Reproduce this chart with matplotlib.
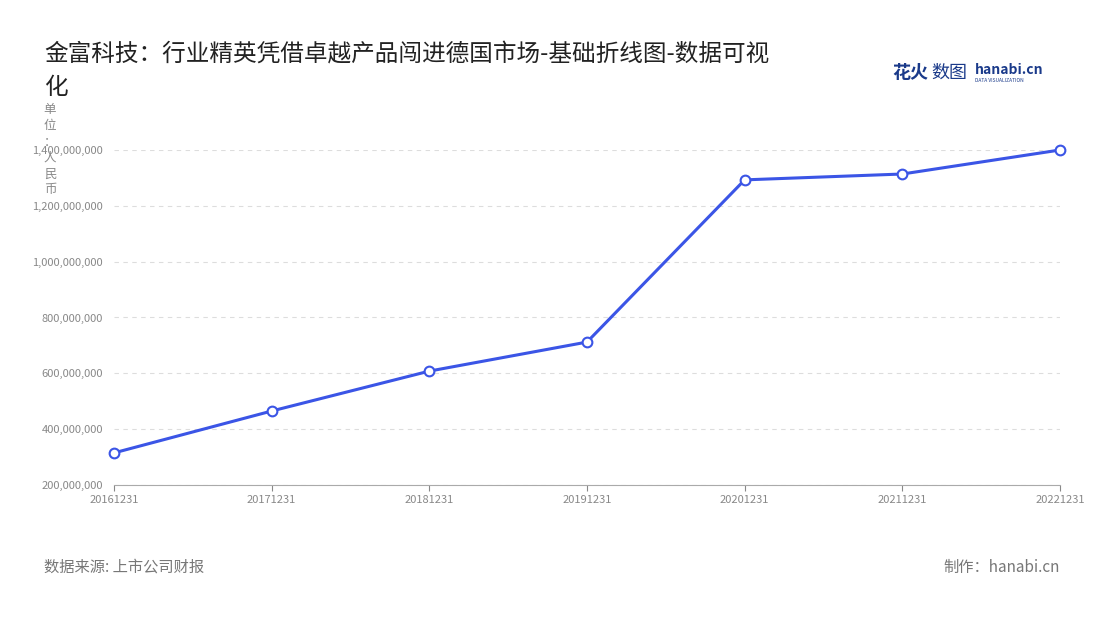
import matplotlib
matplotlib.use("Agg")
import matplotlib.pyplot as plt
from matplotlib.ticker import FuncFormatter

plt.rcParams['font.family'] = ['Noto Sans CJK SC', 'DejaVu Sans']

dates = ["20161231", "20171231", "20181231", "20191231", "20201231", "20211231", "20221231"]
values = [315e6, 465e6, 608e6, 712e6, 1293e6, 1314e6, 1400e6]
yticks = [200e6, 400e6, 600e6, 800e6, 1000e6, 1200e6, 1400e6]

fig = plt.figure(figsize=(11, 6.2), dpi=100)
ax = fig.add_axes([114/1100, 1-485/620, (1060-114)/1100, (485-150)/620])

x = list(range(len(dates)))
ax.plot(x, values, color="#3b55e6", lw=2.2, marker="o", ms=7,
        markerfacecolor="white", markeredgecolor="#3b55e6", markeredgewidth=1.5,
        clip_on=False, zorder=3)
ax.set_xlim(0, len(dates)-1)
ax.set_ylim(200e6, 1400e6)
ax.set_xticks(x)
ax.set_xticklabels(dates)
ax.set_yticks(yticks)
ax.yaxis.set_major_formatter(FuncFormatter(lambda v, p: f"{int(v):,}"))
ax.tick_params(colors="#888888", labelsize=8, length=4)
ax.tick_params(axis="y", length=0, pad=8)
ax.grid(axis="y", ls=(0, (4, 4)), color="#dddddd", lw=0.8)
for s in ["top", "right", "left"]:
    ax.spines[s].set_visible(False)
ax.spines["bottom"].set_color("#aaaaaa")

fig.text(44/1100, 1-55/620, "金富科技：行业精英凭借卓越产品闯进德国市场-基础折线图-数据可视", fontsize=17, color="#222222", va="center")
fig.text(44/1100, 1-87/620, "化", fontsize=17, color="#222222", va="center")
fig.text(50/1100, 1-150/620, "单\n位\n：\n人\n民\n币", fontsize=9, color="#888888",
         ha="center", va="center", linespacing=1.3)
fig.text(44/1100, 1-567/620, "数据来源: 上市公司财报", fontsize=11, color="#777777", va="center")
fig.text(1060/1100, 1-567/620, "制作：hanabi.cn", fontsize=11, color="#777777", va="center", ha="right")
fig.text(892/1100, 1-73/620, "花火", fontsize=13, color="#1a3a8a", weight="bold", va="center")
fig.text(931/1100, 1-73/620, "数图", fontsize=13, color="#1a3a8a", va="center")
fig.text(975/1100, 1-70/620, "hanabi.cn", fontsize=10, color="#1a3a8a", weight="bold", va="center")
fig.text(975/1100, 1-80/620, "DATA VISUALIZATION", fontsize=3.5, color="#1a3a8a", va="center")

fig.savefig("out.png", dpi=100)
